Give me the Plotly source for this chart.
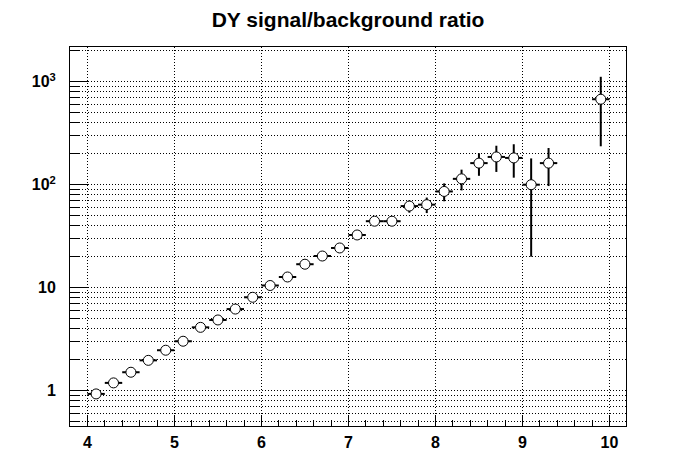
import plotly.graph_objects as go

x_centers = [4.1, 4.3, 4.5, 4.7, 4.9, 5.1, 5.3, 5.5, 5.7, 5.9,
             6.1, 6.3, 6.5, 6.7, 6.9, 7.1, 7.3, 7.5, 7.7, 7.9,
             8.1, 8.3, 8.5, 8.7, 8.9, 9.1, 9.3, 9.9]
ratio = [0.93, 1.19, 1.51, 1.97, 2.47, 3.02, 4.12, 4.86, 6.2, 8.07,
         10.5, 12.7, 16.9, 20.3, 24.3, 32.5, 44.2, 44.2, 62.0, 64.0,
         86.0, 114.0, 162.0, 186.0, 182.0, 100.0, 162.0, 676.0]
ratio_err = [0.02, 0.03, 0.04, 0.05, 0.07, 0.09, 0.13, 0.16, 0.22, 0.3,
             0.4, 0.55, 0.8, 1.0, 1.4, 2.2, 3.5, 4.0, 8.5, 11.0,
             17.0, 26.0, 40.0, 53.0, 65.0, 80.0, 65.0, 440.0]
bin_half_width = [0.1] * len(x_centers)

y_tickvals = [1, 10, 100, 1000]
y_ticktext = ["1", "10", "10<sup>2</sup>", "10<sup>3</sup>"]
x_tickvals = [4, 5, 6, 7, 8, 9, 10]

fig = go.Figure()
fig.add_trace(go.Scatter(
    x=x_centers, y=ratio, mode="markers",
    marker=dict(symbol="circle", size=10, color="white",
                line=dict(color="black", width=1)),
    error_x=dict(type="data", array=bin_half_width, color="black",
                 thickness=2, width=0),
    error_y=dict(type="data", array=ratio_err, color="black",
                 thickness=2, width=0),
    showlegend=False,
))

font_family = "Liberation Sans, Arial, Helvetica, sans-serif"
dotted = "1px,2px"

fig.update_layout(
    width=696, height=474,
    margin=dict(l=70, r=70, t=47, b=48),
    paper_bgcolor="white", plot_bgcolor="white",
    title=dict(text="<b>DY signal/background ratio</b>", x=0.5, xanchor="center",
               y=1 - 20 / 474, yanchor="middle",
               font=dict(family=font_family, size=21, color="black")),
    font=dict(family=font_family, color="black"),
)

fig.update_xaxes(
    range=[3.8, 10.19],
    tickvals=x_tickvals,
    ticktext=[f"<b>{v}</b>" for v in x_tickvals],
    tickfont=dict(size=16, family=font_family, color="black"),
    ticks="inside", ticklen=11, tickwidth=1, tickcolor="black",
    ticklabelstandoff=2,
    showline=True, linecolor="black", linewidth=1, mirror=True,
    showgrid=True, gridcolor="black", gridwidth=1, griddash=dotted,
    zeroline=False, automargin=False,
    minor=dict(dtick=0.2, tick0=4, ticks="inside", ticklen=6,
               tickcolor="black", tickwidth=1, showgrid=False),
)

fig.update_yaxes(
    type="log",
    range=[-0.343, 3.337],
    tickvals=y_tickvals,
    ticktext=[f"<b>{t}</b>" for t in y_ticktext],
    tickfont=dict(size=16, family=font_family, color="black"),
    ticks="inside", ticklen=18, tickwidth=1, tickcolor="black",
    ticklabelstandoff=10,
    showline=True, linecolor="black", linewidth=1, mirror=True,
    showgrid=True, gridcolor="black", gridwidth=1, griddash=dotted,
    zeroline=False, automargin=False,
    minor=dict(dtick="D1", ticks="inside", ticklen=9,
               tickcolor="black", tickwidth=1,
               showgrid=True, gridcolor="black", gridwidth=1, griddash=dotted),
)

fig.write_html("out.html", config={"displayModeBar": False},
               post_script="document.body.style.margin='0';")
